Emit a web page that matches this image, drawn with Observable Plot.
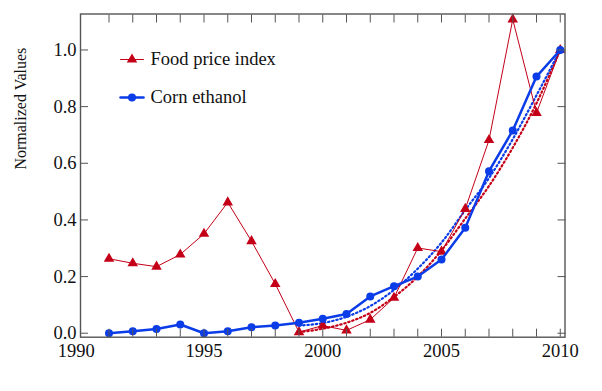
<!DOCTYPE html>
<html><head><meta charset="utf-8">
<script src="https://cdn.jsdelivr.net/npm/d3@7"></script>
<script src="https://cdn.jsdelivr.net/npm/@observablehq/plot@0.6"></script>
<style>body{margin:0;background:#fff} #chart{width:602px;height:391px}</style>
</head><body><div id="chart"></div>
<script>
const years = [1991,1992,1993,1994,1995,1996,1997,1998,1999,2000,2001,2002,2003,2004,2005,2006,2007,2008,2009,2010];
const foodPrice = [0.263,0.247,0.235,0.278,0.351,0.462,0.325,0.174,0.004,0.027,0.010,0.048,0.125,0.301,0.288,0.439,0.682,1.108,0.778,1.0];
const cornEthanol = [0.0,0.007,0.015,0.031,0.0,0.007,0.021,0.027,0.037,0.051,0.068,0.130,0.166,0.200,0.260,0.372,0.572,0.716,0.906,1.0];
const trendYears = [1999,2000,2001,2002,2003,2004,2005,2006,2007,2008,2009,2010];
const foodTrend = [0.004,0.016,0.037,0.072,0.128,0.200,0.292,0.405,0.520,0.655,0.812,1.0];
const cornTrend = [0.027,0.036,0.058,0.096,0.153,0.228,0.320,0.435,0.548,0.685,0.840,1.0];
const yTicks = [0,0.2,0.4,0.6,0.8,1.0];
const xTickLabels = [1995,2000,2005,2010];
const firstLabel = [1990];
const seriesNames = ["Food price index","Corn ethanol"];

const data = years.map((y,i)=>({year:y, food:foodPrice[i], corn:cornEthanol[i]}));
const trend = trendYears.map((y,i)=>({year:y, food:foodTrend[i], corn:cornTrend[i]}));
const RED = "#c40018", BLUE = "#0a3ce8", AX = "#555";
const font = "'Liberation Serif','Times New Roman',serif";
const lineShape = {draw(ctx, l){ ctx.moveTo(0,0); ctx.lineTo(0,-l); }};

const plot = Plot.plot({
  width: 602, height: 391,
  marginLeft: 80, marginRight: 37.5, marginTop: 13.5, marginBottom: 54.3,
  style: {fontFamily: font, fontSize: "18.5px", color: "#111", background: "#fff"},
  x: {domain: [1989.8, 2010.2]},
  y: {domain: [-0.014, 1.127]},
  marks: [
    Plot.line(trend, {x:"year", y:"food", stroke:RED, strokeWidth:2.2, strokeDasharray:"1.4,2.8", curve:"monotone-x"}),
    Plot.line(trend, {x:"year", y:"corn", stroke:BLUE, strokeWidth:2.2, strokeDasharray:"1.4,2.8", curve:"monotone-x"}),
    Plot.line(data, {x:"year", y:"food", stroke:RED, strokeWidth:1}),
    Plot.dot(data, {x:"year", y:"food", fill:RED, symbol:"triangle", r:3.9}),
    Plot.line(data, {x:"year", y:"corn", stroke:BLUE, strokeWidth:2.5}),
    Plot.dot(data, {x:"year", y:"corn", fill:BLUE, r:4}),
    Plot.frame({stroke:AX, strokeWidth:1.4}),
    Plot.axisY(yTicks, {anchor:"left", tickSize:8, dx:8, tickFormat:()=>"", label:null, stroke:AX}),
    Plot.axisY(yTicks, {anchor:"right", tickSize:8, dx:-8, tickFormat:()=>"", label:null, stroke:AX}),
    Plot.axisY(yTicks, {anchor:"left", tickSize:0, tickPadding:4, tickFormat:d3.format(".1f"), label:null, fill:"#111"}),
    Plot.axisX(years, {anchor:"bottom", tickSize:8, dy:-8, tickFormat:()=>"", label:null, stroke:AX}),
    Plot.axisX(years, {anchor:"top", tickSize:8, dy:8, tickFormat:()=>"", label:null, stroke:AX}),
    Plot.axisX(xTickLabels, {anchor:"bottom", tickSize:0, tickPadding:7, tickFormat:d=>String(d), label:null, fill:"#111"}),
    Plot.axisX(firstLabel, {anchor:"bottom", tickSize:0, tickPadding:7, dx:-9, tickFormat:d=>String(d), label:null, fill:"#111"}),
    Plot.text(["Normalized Values"], {frameAnchor:"left", rotate:-90, dx:-60, dy:-6, fontSize:16, fill:"#111"}),
    // legend
    Plot.vector([seriesNames[0]], {frameAnchor:"top-left", dx:40, dy:45.5, length:23, rotate:90, anchor:"start", stroke:RED, strokeWidth:1, shape:lineShape}),
    Plot.dot([seriesNames[0]], {frameAnchor:"top-left", dx:51.5, dy:45.5, symbol:"triangle", fill:RED, r:3.9}),
    Plot.text([seriesNames[0]], {frameAnchor:"top-left", dx:70, dy:45.5, textAnchor:"start", lineAnchor:"middle", fontSize:18.5, fill:"#111"}),
    Plot.vector([seriesNames[1]], {frameAnchor:"top-left", dx:40, dy:83.5, length:23, rotate:90, anchor:"start", stroke:BLUE, strokeWidth:2.5, shape:lineShape}),
    Plot.dot([seriesNames[1]], {frameAnchor:"top-left", dx:51.5, dy:83.5, fill:BLUE, r:4}),
    Plot.text([seriesNames[1]], {frameAnchor:"top-left", dx:70, dy:83.5, textAnchor:"start", lineAnchor:"middle", fontSize:18.5, fill:"#111"})
  ]
});
document.getElementById("chart").appendChild(plot);
</script>
</body></html>
